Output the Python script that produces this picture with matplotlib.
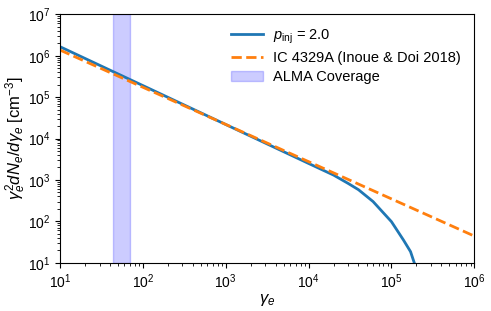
import matplotlib
matplotlib.use("Agg")
import matplotlib.pyplot as plt

plt.rcParams['font.family'] = ['Liberation Sans', 'DejaVu Sans']
plt.rcParams['mathtext.fontset'] = 'custom'
plt.rcParams['mathtext.rm'] = 'Liberation Sans'
plt.rcParams['mathtext.it'] = 'Liberation Sans:italic'
plt.rcParams['mathtext.bf'] = 'Liberation Sans:bold'

# Model spectrum (p_inj = 2.0)
gamma_model = [10, 100, 1e3, 1e4, 1.5e4, 2e4, 3e4, 4e4, 6e4, 1e5, 1.4e5, 1.7e5, 1.9e5, 2.1e5]
n_model = [1.65e6, 1.9e5, 2.18e4, 2.5e3, 1.71e3, 1.31e3, 823, 580, 300, 98, 35, 18.5, 9.5, 4.0]

# IC 4329A (Inoue & Doi 2018)
gamma_ic = [10, 100, 1e3, 1e4, 1e5, 1e6]
n_ic = [1.37e6, 1.73e5, 2.19e4, 2.76e3, 348, 44]

# ALMA coverage
alma_range = [44, 70]

fig = plt.figure(figsize=(4.91, 3.11), dpi=100)
ax = fig.add_axes([0.1222, 0.1553, 0.8438, 0.7987])

l1, = ax.plot(gamma_model, n_model, color='#1f77b4', lw=2, label=r'$p_{\rm inj}$ = 2.0')
l2, = ax.plot(gamma_ic, n_ic, color='#ff7f0e', lw=2, ls='--', label='IC 4329A (Inoue & Doi 2018)')
sp = ax.axvspan(alma_range[0], alma_range[1], color='blue', alpha=0.2, zorder=0, label='ALMA Coverage')

ax.set_xscale('log')
ax.set_yscale('log')
ax.set_xlim(10, 1e6)
ax.set_ylim(10, 1e7)
ax.tick_params(labelsize=10)
ax.set_xlabel(r'$\gamma_e$', fontsize=12, labelpad=1)
ax.set_ylabel(r'$\gamma_e^2 dN_e/d\gamma_e$ [cm$^{-3}$]', fontsize=12, labelpad=0)
ax.legend(handles=[l1, l2, sp], loc='upper right', frameon=False, fontsize=10.5,
          handlelength=2.2, handletextpad=0.7, labelspacing=0.35)

fig.savefig('out.png', dpi=100)
